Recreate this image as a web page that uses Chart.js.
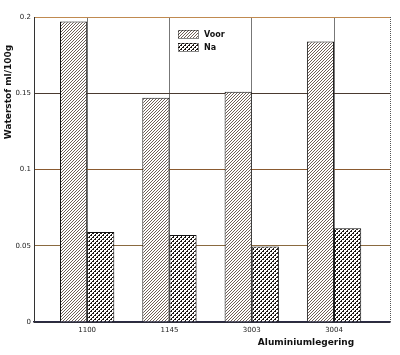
<!DOCTYPE html>
<html><head><meta charset="utf-8">
<script src="https://cdn.jsdelivr.net/npm/chart.js@4/dist/chart.umd.min.js"></script>
<style>html,body{margin:0;padding:0;background:#fff}#wrap{width:400px;height:355px}</style>
</head><body><div id="wrap"><canvas id="c" width="400" height="355"></canvas></div>
<script>
const categories = ['1100', '1145', '3003', '3004'];
const seriesNames = ['Voor', 'Na'];
const voorValues = [0.197, 0.147, 0.151, 0.184];
const naValues = [0.059, 0.057, 0.0495, 0.0615];
const yTicks = [0, 0.05, 0.1, 0.15, 0.2];
const yTitle = 'Waterstof ml/100g';
const xTitle = 'Aluminiumlegering';

function makePattern(kind) {
  const c = document.createElement('canvas');
  const s = kind === 'hatch' ? 3 : 4;
  c.width = s; c.height = s;
  const g = c.getContext('2d');
  g.fillStyle = '#fff'; g.fillRect(0, 0, s, s);
  if (kind === 'hatch') {
    g.fillStyle = '#6f6057';
    for (let i = 0; i < s; i++) { g.fillRect(s - 1 - i, i, 1, 1); }
  } else {
    g.fillStyle = '#1a1410';
    g.fillRect(0, 0, 2, 2); g.fillRect(2, 2, 2, 2);
    g.fillStyle = '#fff';
    g.fillRect(0, 0, 1, 1); g.fillRect(2, 2, 1, 1);
  }
  return g.createPattern(c, 'repeat');
}
const ctx = document.getElementById('c').getContext('2d');
const pats = [makePattern('hatch'), makePattern('cross')];
const yGridColors = { 0: '#333', 0.05: '#8a6a40', 0.1: '#8a5a30', 0.15: '#4a3a30', 0.2: '#c08a50' };

const extras = {
  id: 'extras',
  afterDraw(chart) {
    const g = chart.ctx, a = chart.chartArea;
    g.save();
    g.strokeStyle = '#555'; g.lineWidth = 1; g.setLineDash([1, 1]);
    g.beginPath(); g.moveTo(a.right + 0.5, a.top); g.lineTo(a.right + 0.5, a.bottom); g.stroke();
    g.setLineDash([]);
    const lx = 178, ly = [30, 43];
    chart.data.datasets.forEach((ds, i) => {
      g.fillStyle = ds.backgroundColor;
      g.fillRect(lx, ly[i], 20, 8);
      g.strokeStyle = '#111'; g.setLineDash([1, 1]);
      g.strokeRect(lx + 0.5, ly[i] + 0.5, 20, 8);
      g.setLineDash([]);
      g.fillStyle = '#111';
      g.font = 'bold 8px "DejaVu Sans"';
      g.textBaseline = 'middle'; g.textAlign = 'left';
      g.fillText(ds.label, lx + 26, ly[i] + 4.5);
    });
    g.font = 'bold 9px "DejaVu Sans"';
    g.fillStyle = '#111';
    g.translate(9, 92);
    g.rotate(-Math.PI / 2);
    g.textAlign = 'center'; g.textBaseline = 'middle';
    g.fillText(yTitle, 0, 0);
    g.setTransform(1, 0, 0, 1, 0, 0);
    g.textAlign = 'center';
    g.fillText(xTitle, 306, 343);
    g.restore();
  }
};

new Chart(ctx, {
  type: 'bar',
  data: {
    datasets: [
      { label: seriesNames[0], data: voorValues.map((v, i) => ({ x: i + 1, y: v })), backgroundColor: pats[0], borderColor: '#111', borderWidth: 1 },
      { label: seriesNames[1], data: naValues.map((v, i) => ({ x: i + 1, y: v })), backgroundColor: pats[1], borderColor: '#111', borderWidth: 1 }
    ]
  },
  options: {
    responsive: false,
    animation: false,
    layout: { padding: { top: 17, right: 10, left: 0, bottom: 0 } },
    datasets: { bar: { categoryPercentage: 0.66, barPercentage: 1.0 } },
    plugins: { legend: { display: false }, tooltip: { enabled: false } },
    scales: {
      x: {
        type: 'linear', min: 0.354, max: 4.68, offset: false,
        afterBuildTicks(s) { s.ticks = categories.map((c, i) => ({ value: i + 1 })); },
        afterFit(s) { s.height = 33; },
        ticks: { callback: (v) => categories[v - 1] || '', font: { family: 'DejaVu Sans', size: 7 }, color: '#222', maxRotation: 0, padding: 4 },
        grid: { offset: false, color: '#777', lineWidth: 1, drawTicks: false },
        border: { color: '#2a2a44', width: 1.5 }
      },
      y: {
        min: 0, max: 0.2,
        afterBuildTicks(s) { s.ticks = yTicks.map(v => ({ value: v })); },
        afterFit(s) { s.width = 34; },
        ticks: { callback: (v) => String(v), font: { family: 'DejaVu Sans', size: 7 }, color: '#222', padding: 3 },
        grid: { color: (c) => (c.tick && yGridColors[c.tick.value]) || '#555', lineWidth: 1, drawTicks: false },
        border: { color: '#333', width: 1 }
      }
    }
  },
  plugins: [extras]
});
</script></body></html>
